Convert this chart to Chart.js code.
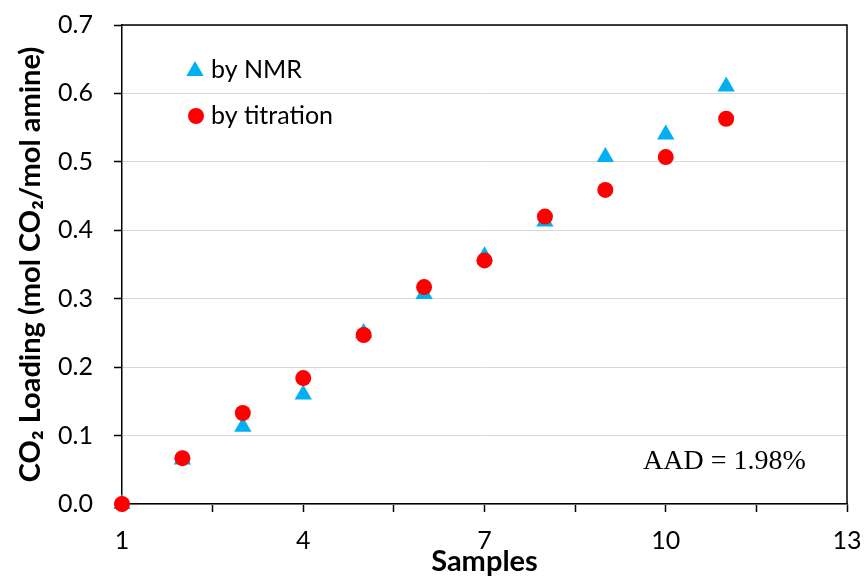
<!DOCTYPE html>
<html>
<head>
<meta charset="utf-8">
<script src="https://cdn.jsdelivr.net/npm/chart.js@4"></script>
<style>
  html, body { margin: 0; padding: 0; background: #fff; }
  #wrap { width: 864px; height: 576px; }
</style>
</head>
<body>
<div id="wrap"><canvas id="myChart" width="864" height="576"></canvas></div>
<script>
const samples = [1, 2, 3, 4, 5, 6, 7, 8, 9, 10, 11];
const byNMR = [0, 0.065, 0.113, 0.160, 0.250, 0.307, 0.362, 0.413, 0.507, 0.540, 0.610];
const byTitration = [0, 0.067, 0.133, 0.184, 0.247, 0.317, 0.356, 0.420, 0.459, 0.507, 0.563];
const xTickLabels = [1, 4, 7, 10, 13];

const toPoints = vals => vals.map((v, i) => ({ x: samples[i], y: v }));

// legend inside the plot, frame on top/right, AAD note
const extras = {
    id: 'extras',
    afterDraw(chart) {
        const { ctx, chartArea: a } = chart;
        ctx.save();
        ctx.strokeStyle = '#000';
        ctx.lineWidth = 1.5;
        ctx.beginPath();
        ctx.moveTo(a.left, a.top);
        ctx.lineTo(a.right, a.top);
        ctx.lineTo(a.right, a.bottom);
        ctx.stroke();

        ctx.fillStyle = '#00b0f0';
        Chart.helpers.drawPoint(ctx, { pointStyle: 'triangle', radius: 10, rotation: 0 }, 195, 71);
        ctx.fillStyle = '#ff0000';
        Chart.helpers.drawPoint(ctx, { pointStyle: 'circle', radius: 8, rotation: 0 }, 196, 116);

        ctx.fillStyle = '#000';
        ctx.font = '25px Lato, "Noto Sans", sans-serif';
        ctx.textBaseline = 'middle';
        ctx.fillText('by NMR', 211, 70);
        ctx.fillText('by titration', 211, 116);

        ctx.font = '28px "Liberation Serif", "Times New Roman", serif';
        ctx.fillText('AAD = 1.98%', 643, 462);
        ctx.restore();
    }
};

const ctx = document.getElementById('myChart').getContext('2d');
new Chart(ctx, {
    type: 'scatter',
    data: {
        datasets: [
            {
                label: 'by NMR',
                data: toPoints(byNMR),
                pointStyle: 'triangle',
                pointRadius: 10,
                backgroundColor: '#00b0f0',
                borderColor: '#00b0f0',
                borderWidth: 0,
                clip: false,
                order: 1
            },
            {
                label: 'by titration',
                data: toPoints(byTitration),
                pointStyle: 'circle',
                pointRadius: 8,
                backgroundColor: '#ff0000',
                borderColor: '#ff0000',
                borderWidth: 0,
                clip: false,
                order: 0
            }
        ]
    },
    options: {
        responsive: false,
        animation: false,
        layout: { padding: { left: 0, right: 17, top: 25, bottom: 0 } },
        plugins: {
            legend: { display: false },
            tooltip: { enabled: false }
        },
        scales: {
            x: {
                type: 'linear',
                min: 1,
                max: 13,
                afterFit: s => { s.height = 72; s.paddingLeft = 0; s.paddingRight = 0; },
                afterBuildTicks: s => {
                    const t = [];
                    for (let v = 1; v <= 13.001; v += 1.5) t.push({ value: v });
                    s.ticks = t;
                },
                ticks: {
                    autoSkip: false,
                    maxRotation: 0,
                    padding: 14,
                    color: '#000',
                    font: { family: 'Lato, "Noto Sans", sans-serif', size: 25 },
                    callback: v => xTickLabels.includes(v) ? String(v) : ''
                },
                grid: {
                    drawOnChartArea: false,
                    drawTicks: true,
                    tickLength: 8,
                    tickColor: '#000',
                    tickWidth: 1.5
                },
                border: { color: '#000', width: 1.5 },
                title: {
                    display: true,
                    text: 'Samples',
                    color: '#000',
                    padding: 0,
                    font: { family: 'Lato, "Noto Sans", sans-serif', size: 29, weight: 'bold', lineHeight: 1 }
                }
            },
            y: {
                min: 0,
                max: 0.7,
                afterFit: s => { s.width = 122; s.paddingTop = 0; s.paddingBottom = 0; },
                ticks: {
                    stepSize: 0.1,
                    padding: 21,
                    color: '#000',
                    font: { family: 'Lato, "Noto Sans", sans-serif', size: 25 },
                    callback: v => v.toFixed(1)
                },
                grid: {
                    color: '#d9d9d9',
                    lineWidth: 1,
                    drawTicks: true,
                    tickLength: 8,
                    tickColor: '#000',
                    tickWidth: 1.5
                },
                border: { color: '#000', width: 1.5 },
                title: {
                    display: true,
                    text: 'CO₂ Loading (mol CO₂/mol amine)',
                    color: '#000',
                    padding: { top: 16, bottom: 0 },
                    font: { family: 'Lato, "Noto Sans", sans-serif', size: 29, weight: 'bold', lineHeight: 1 }
                }
            }
        }
    },
    plugins: [extras]
});
</script>
</body>
</html>
